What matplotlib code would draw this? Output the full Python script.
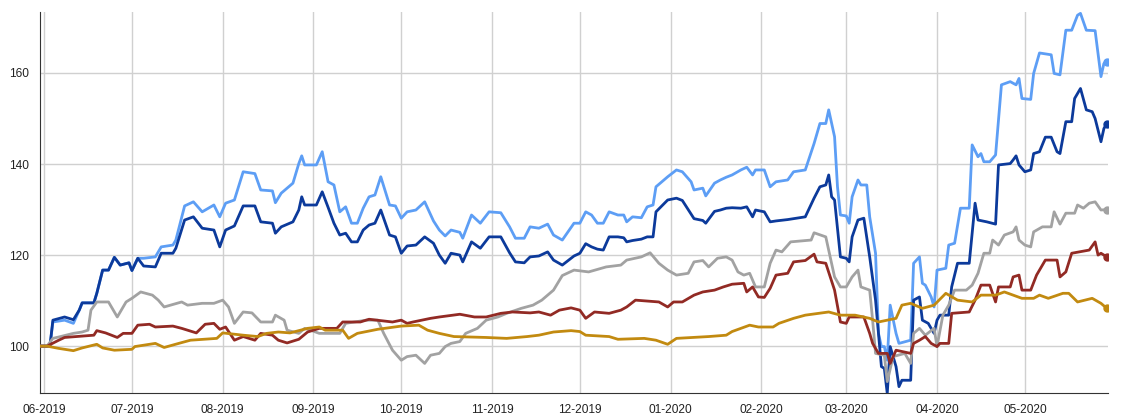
import numpy as np
import pandas as pd
import matplotlib
matplotlib.use("Agg")
import matplotlib.pyplot as plt
import matplotlib.dates as mdates

# day offsets are counted from this date
start = pd.Timestamp("2019-06-01")

lb_day = [-1, 2, 3, 7, 10, 12, 13, 17, 18, 20, 22, 24, 26, 29, 30, 32, 34, 38, 40, 44, 45, 48, 51, 54, 58, 60,
          62, 65, 68, 72, 74, 78, 79, 81, 85, 87, 88, 89, 93, 95, 97, 99, 101, 103, 105, 107, 109, 111, 113, 115,
          118, 120, 122, 124, 127, 130, 133, 135, 137, 139, 142, 143, 146, 149, 152, 156, 159, 161, 164, 166, 169,
          172, 174, 177, 181, 183, 185, 187, 189, 191, 193, 196, 198, 199, 201, 204, 206, 208, 209, 213, 216, 218,
          221, 222, 225, 226, 229, 231, 233, 235, 238, 240, 242, 243, 246, 248, 250, 254, 256, 260, 263, 265, 267,
          268, 270, 271, 272, 274, 275, 276, 278, 279, 281, 282, 284, 285, 286, 287, 288, 289, 291, 292, 296, 297,
          299, 300, 301, 303, 304, 305, 308, 309, 311, 313, 316, 317, 319, 320, 321, 323, 325, 327, 330, 332, 333,
          334, 337, 338, 340, 344, 345, 347, 349, 351, 353, 354, 356, 359, 361, 362, 363]
lb_val = [100, 100, 105.3, 105.7, 105, 107.9, 109.5, 109.5, 111.6, 116.7, 116.7, 119.5, 117.8, 118.3, 116.6, 119.3,
          119.3, 119.6, 121.8, 122.2, 123.3, 130.8, 131.7, 129.5, 131, 128.4, 131.4, 132.1, 138.3, 137.9, 134.3,
          134.1, 131.5, 133.6, 135.8, 140.1, 141.8, 139.8, 139.8, 142.7, 136.1, 135.4, 129.5, 130.6, 127, 127,
          130.3, 132.8, 133.2, 137.2, 131, 130.8, 128.1, 129.5, 129.9, 131.7, 127.5, 125.5, 124.2, 125.5, 125,
          123.7, 128.8, 127, 129.5, 129.3, 126.2, 123.7, 123.7, 126.2, 125.9, 126.8, 124.4, 123.3, 127, 127, 129.5,
          128.8, 127, 127, 129.5, 128.8, 128.8, 127.3, 128.4, 128.2, 130.6, 131, 135, 137.2, 138.7, 138.3, 136.1,
          134.3, 134.7, 133, 135.8, 136.5, 137.1, 137.6, 138.7, 139.3, 137.6, 138.7, 138.7, 135, 136.1, 136.5,
          138.3, 138.7, 144.5, 148.9, 148.9, 151.9, 146, 135, 128.8, 128.6, 127, 132.8, 136.5, 135.4, 135.4, 128.4,
          120.4, 102.8, 99.9, 99.9, 96.9, 109, 102.8, 100.6, 101.3, 118.2, 119.6, 113.8, 113.4, 110.8, 108.6,
          116.7, 117.1, 122.2, 122.6, 130.3, 130.3, 144.2, 141.6, 142.3, 140.5, 140.5, 142, 157.4, 158.1, 157.4,
          158.8, 154.4, 154.2, 159.9, 164.4, 164, 159.9, 159.6, 169.4, 169.4, 172.7, 173.1, 169.4, 169.3, 159.2,
          162.1, 162.5]

db_day = [-1, 2, 3, 7, 10, 12, 13, 17, 18, 20, 22, 24, 26, 29, 30, 32, 34, 38, 40, 44, 45, 48, 51, 54, 58, 60,
          62, 65, 68, 72, 74, 78, 79, 81, 85, 87, 88, 89, 93, 95, 97, 99, 101, 103, 105, 107, 109, 111, 113, 115,
          118, 120, 122, 124, 127, 130, 133, 135, 137, 139, 142, 143, 146, 149, 152, 156, 159, 161, 164, 166, 169,
          172, 174, 177, 181, 183, 185, 187, 189, 191, 193, 196, 198, 199, 201, 204, 206, 208, 209, 213, 216, 218,
          221, 222, 225, 226, 229, 231, 233, 235, 238, 240, 242, 243, 246, 248, 250, 254, 256, 260, 263, 265, 267,
          268, 269, 270, 272, 274, 275, 276, 278, 280, 282, 284, 286, 287, 288, 289, 291, 292, 293, 296, 297, 299,
          300, 302, 304, 305, 306, 309, 310, 312, 316, 318, 319, 322, 325, 326, 330, 331, 332, 333, 335, 337, 338,
          340, 342, 344, 346, 347, 349, 351, 352, 354, 356, 358, 359, 361, 362, 363]
db_val = [100, 100, 105.7, 106.4, 105.8, 107.9, 109.5, 109.5, 111.6, 116.7, 116.7, 119.5, 117.8, 118.3, 116.6,
          119.3, 117.6, 117.4, 120.4, 120.4, 121.5, 127.7, 128.4, 125.9, 125.5, 121.8, 125.5, 126.4, 130.8, 130.8,
          127.3, 127, 124.8, 126.2, 127.3, 129.9, 132.8, 131, 131, 133.9, 130.5, 127, 124.4, 124.8, 122.9, 122.9,
          125.5, 126.6, 127, 129.9, 124.4, 124, 120.4, 122, 122.2, 124, 122.6, 120, 118.2, 120.4, 120, 118.5,
          122.9, 121.5, 124, 124, 120.5, 118.5, 118.3, 119.6, 119.8, 120.7, 118.9, 117.8, 119.8, 120.4, 122.5,
          121.8, 121.3, 121.1, 124, 124, 123.8, 122.9, 123.2, 123.5, 124, 124, 129.5, 132.1, 132.5, 132, 129, 128,
          127.6, 127, 129.6, 129.9, 130.3, 130.4, 130.3, 130.6, 128.4, 129.9, 129.5, 127.3, 127.5, 127.8, 128,
          128.4, 132.5, 135, 135.4, 137.6, 132.8, 132.1, 119.6, 119.3, 118.5, 124, 127.7, 128.1, 119.6, 110.1,
          95.5, 95.1, 89.6, 99.9, 95.5, 91.1, 92.5, 92.5, 110.1, 110.8, 105.7, 105, 102.8, 105.7, 106.8, 106.8,
          113, 118.2, 118.2, 131.4, 127.7, 127.3, 126.8, 139.8, 140.1, 140.9, 141.8, 139.8, 138.3, 138.7, 142.3,
          142.7, 145.9, 145.9, 142.7, 142.3, 149.3, 149.3, 154.4, 156.6, 151.9, 151.5, 150, 144.9, 147.8, 148.9]

gr_day = [-1, 1, 3, 5, 10, 13, 15, 16, 18, 22, 24, 25, 28, 30, 33, 37, 39, 41, 47, 49, 54, 58, 61, 63, 65, 68, 71,
          74, 78, 79, 82, 83, 87, 89, 91, 94, 101, 103, 110, 114, 116, 119, 122, 124, 127, 130, 132, 135, 137, 139,
          142, 144, 148, 151, 155, 158, 163, 167, 170, 174, 177, 181, 186, 192, 197, 199, 204, 207, 210, 213, 216,
          220, 222, 225, 227, 230, 233, 235, 237, 239, 241, 243, 246, 248, 250, 252, 255, 262, 263, 267, 270, 272,
          274, 276, 278, 279, 282, 283, 284, 287, 288, 290, 294, 296, 297, 299, 301, 304, 305, 307, 309, 311, 315,
          317, 319, 321, 323, 324, 326, 328, 331, 332, 333, 335, 337, 338, 341, 344, 345, 347, 349, 352, 353, 355,
          357, 359, 361, 363]
gr_val = [100, 100, 101.7, 102, 102.8, 103.1, 103.5, 107.9, 109.7, 109.7, 107.5, 106.4, 109.7, 110.5, 111.9, 111.2,
          110.1, 108.6, 109.7, 109, 109.4, 109.4, 110.1, 108.6, 105, 107.5, 107.3, 105.3, 105.3, 106.8, 105.7,
          103.5, 102.8, 103.9, 103.5, 102.8, 102.8, 105, 105.7, 105.7, 102.8, 99.1, 96.9, 97.7, 98, 96.2, 98, 98.4,
          99.9, 100.6, 101, 102.8, 103.9, 105.7, 106.4, 107.2, 108.3, 109, 110.1, 112.3, 115.5, 116.7, 116.3,
          117.4, 117.8, 118.9, 119.6, 120.5, 118.2, 116.7, 115.6, 116, 118.5, 118.8, 117.4, 119.3, 119.6, 118.9,
          116.3, 115.6, 116, 113, 113, 118.2, 121.1, 120.7, 122.9, 123.3, 124.9, 124, 115.2, 113, 113, 115.2,
          116.7, 113, 112.3, 105.7, 98.4, 98, 92.2, 97.7, 98.4, 96.2, 102.8, 103.9, 102.4, 103.9, 99.9, 106.8, 109,
          112.3, 112.3, 113.4, 116, 120.4, 120.4, 123.3, 122.2, 124.4, 125.1, 126.2, 123.3, 122.2, 121.8, 125.1,
          126.2, 126.2, 129.5, 126.8, 129.2, 129.2, 131, 130.3, 131.4, 131.7, 129.9, 130]

rd_day = [-1, 1, 5, 7, 13, 17, 18, 21, 25, 27, 30, 32, 36, 38, 44, 47, 52, 55, 58, 60, 62, 65, 68, 72, 74, 78, 80,
          83, 87, 90, 94, 100, 102, 108, 111, 119, 122, 124, 126, 132, 135, 142, 147, 151, 156, 160, 166, 169, 173,
          176, 180, 183, 185, 188, 193, 197, 199, 202, 210, 213, 215, 218, 222, 225, 229, 232, 235, 239, 240, 242,
          244, 246, 248, 250, 254, 256, 260, 263, 264, 267, 270, 272, 274, 275, 280, 282, 283, 285, 288, 289, 291,
          296, 297, 299, 301, 303, 305, 306, 309, 310, 316, 318, 320, 323, 325, 326, 330, 331, 333, 334, 337, 339,
          342, 346, 347, 349, 351, 357, 359, 360, 361, 363]
rd_val = [100, 100, 101.3, 101.9, 102.2, 102.4, 103.4, 102.9, 101.9, 102.8, 102.8, 104.6, 104.8, 104.2, 104.4,
          103.9, 102.9, 104.8, 105, 103.7, 104.2, 101.3, 102.1, 101.3, 102.8, 102.4, 101.3, 100.7, 101.5, 103.1,
          103.9, 103.9, 105.3, 105.3, 105.9, 105.3, 105.7, 105, 105.3, 106.1, 106.4, 107, 106.4, 106.4, 107.2,
          107.5, 107.3, 107.5, 106.8, 107.9, 108.4, 107.9, 106.1, 107.5, 107.2, 107.9, 108.6, 110.1, 109.7, 108.6,
          109.7, 109.7, 111.2, 111.9, 112.3, 113, 113.6, 113.8, 111.9, 113, 110.8, 110.7, 112.7, 115.6, 116, 118.5,
          118.8, 120.2, 118.5, 118.2, 112.3, 105.3, 105, 106.4, 106.4, 102.8, 100.6, 98.4, 98.4, 96.2, 99.1, 98.4,
          100.6, 101.3, 102.1, 100.6, 99.9, 100.6, 100.6, 107.2, 107.5, 110.1, 113.4, 113.4, 109.7, 113, 113,
          115.2, 115.6, 112.3, 112.3, 115.6, 118.9, 118.9, 115.2, 116.3, 120.4, 121.1, 122.9, 120, 120.4, 119.6]

gd_day = [-1, 1, 5, 10, 13, 18, 20, 24, 30, 31, 38, 41, 46, 50, 59, 61, 68, 73, 76, 80, 84, 90, 94, 96, 102, 104,
          107, 114, 122, 128, 131, 135, 140, 151, 158, 165, 169, 174, 180, 183, 185, 193, 196, 205, 209, 213, 216,
          227, 233, 235, 241, 244, 249, 251, 256, 260, 268, 272, 277, 282, 285, 291, 293, 296, 300, 304, 308, 312,
          317, 320, 325, 328, 334, 338, 340, 343, 348, 350, 353, 358, 361, 363]
gd_val = [100, 100, 99.5, 99, 99.6, 100.4, 99.6, 99.1, 99.3, 99.9, 100.6, 99.7, 100.6, 101.3, 101.7, 102.9, 102.4,
          102.1, 102.8, 103.1, 102.9, 103.9, 104.2, 103.5, 103.5, 101.7, 102.8, 103.7, 104.4, 104.6, 103.5, 102.8,
          102.1, 101.9, 101.7, 102.1, 102.4, 103.1, 103.4, 103.2, 102.4, 102.1, 101.5, 101.7, 101.3, 100.4, 101.7,
          102.1, 102.4, 103.2, 104.6, 104.2, 104.2, 105, 106.1, 106.8, 107.5, 106.8, 106.8, 106.1, 105.3, 106.1,
          109, 109.4, 108.3, 109, 111.6, 110.1, 109.7, 111.2, 111.2, 111.9, 110.5, 110.5, 111.2, 110.5, 111.6,
          111.6, 109.7, 110.5, 109.4, 108.3]

series = [(lb_day, lb_val, "#5d9ef5"),
          (db_day, db_val, "#0c3a9b"),
          (gr_day, gr_val, "#a2a2a2"),
          (rd_day, rd_val, "#922a24"),
          (gd_day, gd_val, "#c28a10")]


def to_dates(days):
    return start + pd.to_timedelta(np.array(days), unit="D")


fig = plt.figure(figsize=(11.21, 4.16), dpi=100)
ax = fig.add_axes([40 / 1121, 1 - 393 / 416, 1068 / 1121, 381 / 416])

for day, val, col in series:
    d = to_dates(day)
    ax.plot(d, val, color=col, lw=2.0, solid_joinstyle="round", zorder=3)
    # dot on the last value
    ax.plot(d[-1:], val[-1:], "o", color=col, ms=5, zorder=4)

ax.set_xlim(start + pd.Timedelta(days=-1.4), start + pd.Timedelta(days=363.4))
ax.set_ylim(89.7, 173.4)

months = pd.date_range("2019-06-01", "2020-05-01", freq="MS")
ax.set_xticks(months)
ax.xaxis.set_major_formatter(mdates.DateFormatter("%m-%Y"))
ax.set_yticks([100, 120, 140, 160])

ax.grid(True, color="#d0d0d0", lw=1, zorder=0)
ax.tick_params(length=0, labelsize=8.6, colors="#222222", pad=8)
for lab in ax.get_xticklabels() + ax.get_yticklabels():
    lab.set_family("Liberation Sans")

ax.spines["top"].set_visible(False)
ax.spines["right"].set_visible(False)
ax.spines["left"].set_color("#333333")
ax.spines["bottom"].set_color("#333333")

fig.savefig("out.png", dpi=100)
